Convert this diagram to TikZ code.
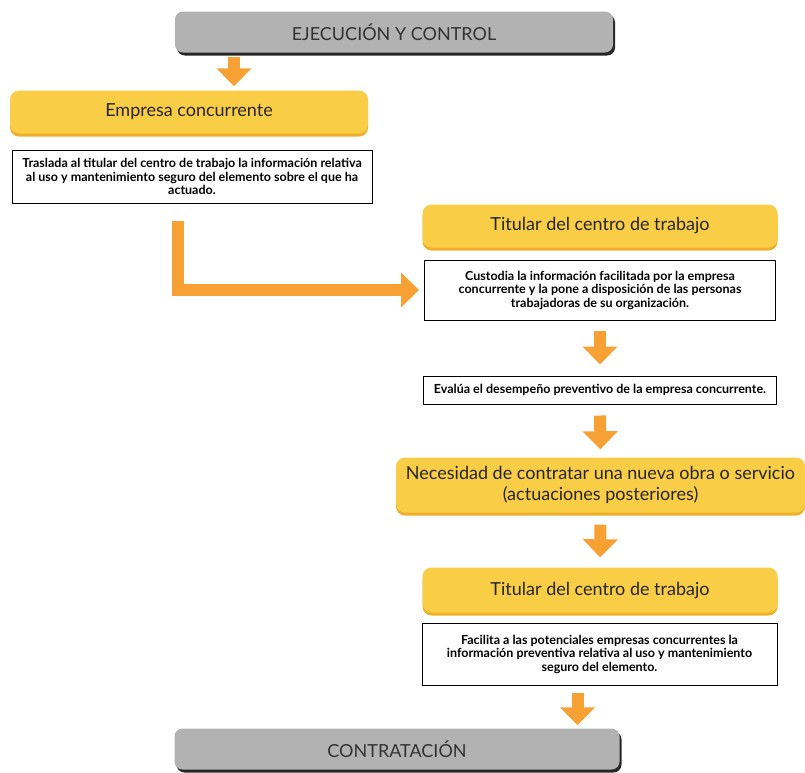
\documentclass[tikz,border=0pt]{standalone}
\usepackage{fontspec}
\setmainfont{Lato}
\usetikzlibrary{arrows.meta,shadows}
\definecolor{gris}{RGB}{178,178,178}
\definecolor{amarillo}{RGB}{250,205,70}
\definecolor{naranja}{RGB}{247,160,52}
\definecolor{sombra}{RGB}{240,175,40}

\begin{document}
\begin{tikzpicture}[x=1pt,y=-1pt]

\tikzstyle{gbox} = [fill=gris, rounded corners=8pt, minimum height=41pt, font=\fontsize{18}{21}\selectfont, text=black!80, drop shadow={shadow xshift=2pt, shadow yshift=-3pt, fill=black!85, opacity=1}]
\tikzstyle{ybox} = [fill=amarillo, rounded corners=9pt, minimum width=355pt, minimum height=43pt, font=\fontsize{18}{21}\selectfont, text=black!85, align=center, drop shadow={shadow xshift=0pt, shadow yshift=-3pt, fill=sombra, opacity=1}]
\tikzstyle{wbox} = [draw, fill=white, line width=1pt, inner sep=2pt, align=center, font=\bfseries\fontsize{12.5}{13.5}\selectfont]
\tikzstyle{arr} = [draw=naranja, line width=12pt, -{Triangle[width=34pt,length=18pt]}]

\useasboundingbox (0,0) rectangle (805,772);

% fase inicial
\node[gbox, minimum width=438pt] (ejec) at (394,32) {EJECUCIÓN Y CONTROL};
\node[ybox, minimum width=358pt] (emp) at (189,112) {Empresa concurrente};
\node[wbox, minimum width=360pt, minimum height=53pt] (tras) at (192,176.5) {Traslada al titular del centro de trabajo la información relativa\\ al uso y mantenimiento seguro del elemento sobre el que ha\\ actuado.};

% titular
\node[ybox] (tit) at (600,226) {Titular del centro de trabajo};
\node[wbox, minimum width=351pt, minimum height=60pt] (cust) at (600,290) {Custodia la información facilitada por la empresa\\ concurrente y la pone a disposición de las personas\\ trabajadoras de su organización.};
\node[wbox, minimum width=353pt, minimum height=28pt] (eval) at (600,390) {Evalúa el desempeño preventivo de la empresa concurrente.};
\node[ybox, minimum width=409pt, minimum height=55pt] (nec) at (600.5,485) {Necesidad de contratar una nueva obra o servicio\\ (actuaciones posteriores)};
\node[ybox, minimum height=45pt] (tit2) at (600,590) {Titular del centro de trabajo};
\node[wbox, minimum width=355pt, minimum height=62pt] (fac) at (599.5,654) {Facilita a las potenciales empresas concurrentes la\\ información preventiva relativa al uso y mantenimiento\\ seguro del elemento.};
\node[gbox, minimum width=445pt] (contr) at (397,749) {CONTRATACIÓN};

% flechas
\draw[arr, shorten <=4pt, shorten >=4pt] ([xshift=45pt]emp.north |- ejec.south) -- ([xshift=45pt]emp.north);
\draw[arr, shorten <=17pt, shorten >=5pt, line join=miter] ([xshift=-14pt]tras.south) |- (cust.west);
\draw[arr, shorten <=10pt, shorten >=11pt] (cust.south) -- (eval.north);
\draw[arr, shorten <=11pt, shorten >=8pt] (eval.south) -- (nec.north);
\draw[arr, shorten <=12pt, shorten >=10pt] (nec.south) -- (tit2.north);
\draw[arr, shorten <=7pt, shorten >=3pt] ([xshift=-22pt]fac.south) -- ([xshift=-22pt]fac.south |- contr.north);

\end{tikzpicture}
\end{document}
